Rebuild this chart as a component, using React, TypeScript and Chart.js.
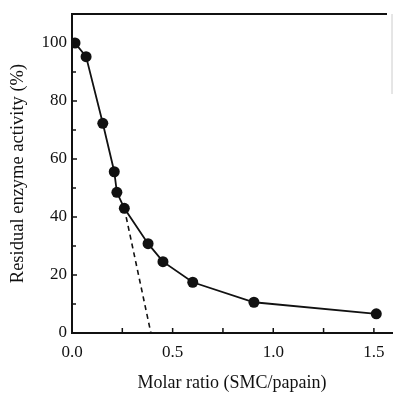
import React, { useEffect, useRef } from "react";
import { Chart, registerables } from "chart.js";

Chart.register(...registerables);

const molarRatio = [0.015, 0.07, 0.153, 0.21, 0.223, 0.26, 0.378, 0.452, 0.6, 0.904, 1.512];
const activity = [100, 95.3, 72.3, 55.6, 48.5, 43, 30.8, 24.6, 17.5, 10.6, 6.6];
const dashedX = [0.26, 0.392];
const dashedY = [43, 0];

const X_MIN = 0;
const X_MAX = 1.59;
const Y_MIN = 0;
const Y_MAX = 110;
const xTickStep = 0.25;
const yTickStep = 10;

const FONT = "'Liberation Serif', 'Times New Roman', serif";

const tickPlugin = {
  id: "inwardTicks",
  afterDatasetsDraw(chart: any) {
    const { ctx, chartArea, scales } = chart;
    const x = scales.x;
    const y = scales.y;
    ctx.save();
    ctx.strokeStyle = "#111";
    ctx.lineWidth = 1.5;
    x.ticks.forEach((t: any) => {
      const px = x.getPixelForValue(t.value);
      if (px < chartArea.left + 1) return;
      ctx.beginPath();
      ctx.moveTo(px, chartArea.bottom);
      ctx.lineTo(px, chartArea.bottom - 5);
      ctx.stroke();
    });
    y.ticks.forEach((t: any) => {
      const py = y.getPixelForValue(t.value);
      if (py > chartArea.bottom - 1) return;
      const len = t.value % 20 === 0 ? 5 : 4;
      ctx.beginPath();
      ctx.moveTo(chartArea.left, py);
      ctx.lineTo(chartArea.left + len, py);
      ctx.stroke();
    });
    ctx.lineWidth = 2;
    ctx.beginPath();
    ctx.moveTo(chartArea.left, chartArea.top);
    ctx.lineTo(chartArea.right - 5, chartArea.top);
    ctx.stroke();
    ctx.strokeStyle = "#ccc";
    ctx.lineWidth = 1;
    ctx.beginPath();
    ctx.moveTo(chartArea.right, chartArea.top);
    ctx.lineTo(chartArea.right, chartArea.top + 80);
    ctx.stroke();
    ctx.restore();
  },
};

export default function App() {
  const ref = useRef<HTMLCanvasElement>(null);
  useEffect(() => {
    const chart = new Chart(ref.current!, {
      type: "scatter",
      data: {
        datasets: [
          {
            data: molarRatio.map((v, i) => ({ x: v, y: activity[i] })),
            showLine: true,
            borderColor: "#111",
            backgroundColor: "#111",
            borderWidth: 1.8,
            pointRadius: 5.5,
            pointBorderWidth: 0,
            tension: 0,
          },
          {
            data: dashedX.map((v, i) => ({ x: v, y: dashedY[i] })),
            showLine: true,
            borderColor: "#111",
            borderWidth: 1.6,
            borderDash: [5, 4],
            pointRadius: 0,
          },
        ],
      },
      options: {
        responsive: false,
        animation: false,
        devicePixelRatio: 1,
        layout: { autoPadding: false, padding: { top: 14, right: 1, left: 0, bottom: 0 } },
        plugins: { legend: { display: false }, tooltip: { enabled: false } },
        scales: {
          x: {
            type: "linear",
            min: X_MIN,
            max: X_MAX,
            afterFit: (s: any) => {
              s.height = 62;
              s.paddingLeft = 0;
              s.paddingRight = 0;
            },
            border: { display: true, color: "#111", width: 2 },
            grid: { display: false, drawTicks: false },
            ticks: {
              stepSize: xTickStep,
              includeBounds: false,
              padding: 9,
              color: "#111",
              font: { family: FONT, size: 17 },
              maxRotation: 0,
              autoSkip: false,
              callback: (v: any) => {
                const n = Number(v);
                return Math.abs(n / 0.5 - Math.round(n / 0.5)) < 1e-6 ? n.toFixed(1) : "";
              },
            },
            title: {
              display: true,
              text: "Molar ratio (SMC/papain)",
              color: "#111",
              font: { family: FONT, size: 18 },
              padding: { top: 0, bottom: 1 },
            },
          },
          y: {
            type: "linear",
            min: Y_MIN,
            max: Y_MAX,
            afterFit: (s: any) => {
              s.width = 72;
              s.paddingTop = 0;
              s.paddingBottom = 0;
            },
            border: { display: true, color: "#111", width: 2 },
            grid: { display: false, drawTicks: false },
            ticks: {
              stepSize: yTickStep,
              padding: 5,
              color: "#111",
              font: { family: FONT, size: 17 },
              autoSkip: false,
              callback: (v: any) => {
                const n = Number(v);
                return n % 20 === 0 && n <= 100 ? String(n) : "";
              },
            },
            title: {
              display: true,
              text: "Residual enzyme activity (%)",
              color: "#111",
              font: { family: FONT, size: 18.5 },
              padding: { top: 7, bottom: 0 },
            },
          },
        },
      },
      plugins: [tickPlugin],
    });
    return () => chart.destroy();
  }, []);
  return (
    <div style={{ position: "absolute", left: 0, top: 0, width: 393, height: 395, background: "#fff" }}>
      <canvas ref={ref} width={393} height={395} style={{ width: 393, height: 395, display: "block" }} />
    </div>
  );
}
